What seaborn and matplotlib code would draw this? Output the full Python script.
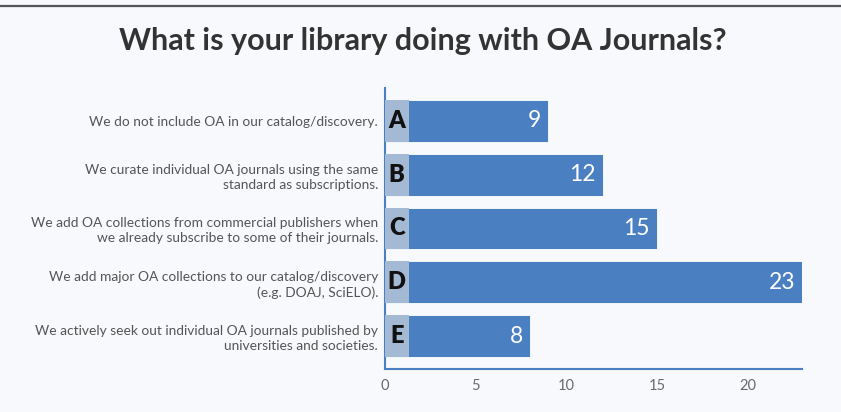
import matplotlib
matplotlib.use("Agg")
import matplotlib.pyplot as plt
import seaborn as sns
import pandas as pd

# Survey answers, counts and the letter tag for each answer
letters = ["A", "B", "C", "D", "E"]
answers = [
    "We do not include OA in our catalog/discovery.",
    "We curate individual OA journals using the same\nstandard as subscriptions.",
    "We add OA collections from commercial publishers when\nwe already subscribe to some of their journals.",
    "We add major OA collections to our catalog/discovery\n(e.g. DOAJ, SciELO).",
    "We actively seek out individual OA journals published by\nuniversities and societies.",
]
counts = [9, 12, 15, 23, 8]
x_ticks = [0, 5, 10, 15, 20]

title = "What is your library doing with OA Journals?"

bar_color = "#4a80c2"
tag_color = "#a3b9d4"
bg = "#f7f9fc"

sns.set_theme(style="white")
plt.rcParams["font.family"] = ["Lato", "DejaVu Sans"]

df = pd.DataFrame({"answer": answers, "count": counts, "letter": letters})

fig = plt.figure(figsize=(8.41, 4.12), dpi=100, facecolor=bg)
ax = fig.add_axes([0.4578, 0.1044, 0.4958, 0.682])
ax.set_facecolor(bg)

sns.barplot(data=df, x="count", y="answer", orient="h", color=bar_color,
            width=0.78, saturation=1, edgecolor="white", linewidth=0.6, ax=ax)

# light tag strip at the start of each bar holding the letter
tag_w = 1.3
ax.barh(range(len(letters)), [tag_w] * len(letters), left=0, height=0.78,
        color=tag_color, edgecolor="none", zorder=3)

for i, (let, c) in enumerate(zip(letters, counts)):
    ax.text(tag_w / 2, i, let, ha="center", va="center", fontsize=17,
            fontweight="heavy", color="#111111", zorder=4)
    ax.annotate(str(c), xy=(c, i), xytext=(-5, 0), textcoords="offset points",
                ha="right", va="center", fontsize=16.5, color="white", zorder=4)

ax.set_xlim(0, 23)
ax.set_ylim(4.61, -0.61)
ax.set_xticks(x_ticks)
ax.set_xlabel("")
ax.set_ylabel("")

for side in ["top", "right"]:
    ax.spines[side].set_visible(False)
for side in ["left", "bottom"]:
    ax.spines[side].set_color(bar_color)
    ax.spines[side].set_linewidth(1.5)

ax.tick_params(axis="x", colors="#6a6a6a", labelsize=10.5, length=3,
               color=bar_color, width=1, pad=4)
ax.tick_params(axis="y", colors="#555555", labelsize=9.9, length=0, pad=5)
for lbl in ax.get_yticklabels():
    lbl.set_ha("right")
    lbl.set_multialignment("right")
    lbl.set_linespacing(1.3)

fig.text(0.503, 0.9, title, ha="center", va="center", fontsize=22,
         fontweight="bold", color="#333333")

# dark rule across the top of the figure
fig.add_artist(plt.Line2D([0, 1], [0.985, 0.985], transform=fig.transFigure,
                          color="#555555", linewidth=1.6))

fig.savefig("out.png", dpi=100, facecolor=bg)
